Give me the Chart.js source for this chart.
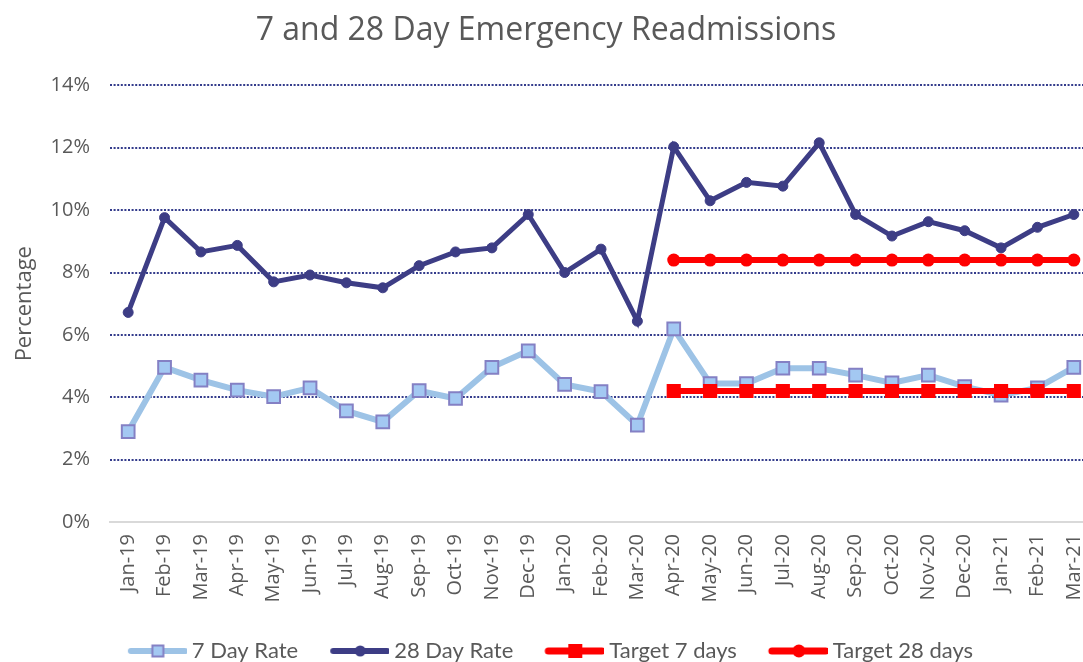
<!DOCTYPE html>
<html>
<head>
<meta charset="utf-8">
<script src="https://cdn.jsdelivr.net/npm/chart.js@4/dist/chart.umd.min.js"></script>
<style>
  html, body { margin: 0; padding: 0; background: #fff; overflow: hidden; }
  #wrap { width: 1092px; height: 662px; }
</style>
</head>
<body>
<!-- canvas is a bit wider than the window so the right edge gets cut off like the original -->
<div id="wrap"><canvas id="chart" width="1092" height="662"></canvas></div>
<script>
const months = ["Jan-19","Feb-19","Mar-19","Apr-19","May-19","Jun-19","Jul-19","Aug-19","Sep-19","Oct-19","Nov-19","Dec-19",
  "Jan-20","Feb-20","Mar-20","Apr-20","May-20","Jun-20","Jul-20","Aug-20","Sep-20","Oct-20","Nov-20","Dec-20",
  "Jan-21","Feb-21","Mar-21"];

const rate7 = [2.9, 4.96, 4.55, 4.23, 4.02, 4.3, 3.56, 3.21, 4.21, 3.96, 4.96, 5.49,
  4.41, 4.18, 3.11, 6.19, 4.44, 4.44, 4.93, 4.93, 4.71, 4.46, 4.71, 4.34, 4.07, 4.3, 4.96];

const rate28 = [6.72, 9.76, 8.66, 8.87, 7.7, 7.92, 7.67, 7.51, 8.22, 8.66, 8.79, 9.86,
  8.0, 8.75, 6.44, 12.03, 10.3, 10.89, 10.77, 12.16, 9.86, 9.17, 9.63, 9.34, 8.79, 9.45, 9.86];

const target7 = [null, null, null, null, null, null, null, null, null, null, null, null,
  null, null, null, 4.2, 4.2, 4.2, 4.2, 4.2, 4.2, 4.2, 4.2, 4.2, 4.2, 4.2, 4.2];

const target28 = [null, null, null, null, null, null, null, null, null, null, null, null,
  null, null, null, 8.4, 8.4, 8.4, 8.4, 8.4, 8.4, 8.4, 8.4, 8.4, 8.4, 8.4, 8.4];

const grey = "#595959";

// line+marker sample for the legend (excel style), with blank room on the left for spacing
function legendSample(lineColor, lineWidth, shape, fill, stroke, size) {
  const c = document.createElement("canvas");
  c.width = 74; c.height = 20;
  const g = c.getContext("2d");
  g.strokeStyle = lineColor;
  g.lineWidth = lineWidth;
  g.lineCap = "round";
  g.beginPath(); g.moveTo(18, 10); g.lineTo(72, 10); g.stroke();
  g.fillStyle = fill;
  g.lineWidth = 2;
  if (shape === "rect") {
    g.fillRect(45 - size / 2, 10 - size / 2, size, size);
    if (stroke) { g.strokeStyle = stroke; g.strokeRect(45 - size / 2, 10 - size / 2, size, size); }
  } else {
    g.beginPath(); g.arc(45, 10, size / 2, 0, Math.PI * 2); g.fill();
  }
  return c;
}

const samples = [
  legendSample("#9DC3E6", 6, "rect", "#A3C8F2", "#8480C4", 11),
  legendSample("#3D3D85", 6, "circle", "#3D3D85", null, 11),
  legendSample("#FF0000", 7, "rect", "#FF0000", null, 14),
  legendSample("#FF0000", 7, "circle", "#FF0000", null, 13)
];

new Chart(document.getElementById("chart"), {
  type: "line",
  data: {
    labels: months,
    datasets: [
      {
        label: "7 Day Rate",
        data: rate7,
        borderColor: "#9DC3E6",
        borderWidth: 6,
        pointStyle: "rect",
        pointRadius: 9,
        pointBackgroundColor: "#A3C8F2",
        pointBorderColor: "#8480C4",
        pointBorderWidth: 2,
        order: 4
      },
      {
        label: "28 Day Rate",
        data: rate28,
        borderColor: "#3D3D85",
        borderWidth: 5,
        pointStyle: "circle",
        pointRadius: 5,
        pointBackgroundColor: "#3D3D85",
        pointBorderColor: "#3D3D85",
        pointBorderWidth: 1,
        order: 3
      },
      {
        label: "Target 7 days",
        data: target7,
        borderColor: "#FF0000",
        borderWidth: 6,
        pointStyle: "rect",
        pointRadius: 10,
        pointBackgroundColor: "#FF0000",
        pointBorderColor: "#FF0000",
        pointBorderWidth: 0,
        order: 2
      },
      {
        label: "Target 28 days",
        data: target28,
        borderColor: "#FF0000",
        borderWidth: 6,
        pointStyle: "circle",
        pointRadius: 6.5,
        pointBackgroundColor: "#FF0000",
        pointBorderColor: "#FF0000",
        pointBorderWidth: 0,
        order: 1
      }
    ]
  },
  options: {
    responsive: false,
    animation: false,
    // legend sits low, like the original crop
    layout: { autoPadding: false, padding: { left: 0, right: 0, top: 0, bottom: -10 } },
    plugins: {
      title: {
        display: true,
        text: "7 and 28 Day Emergency Readmissions",
        color: grey,
        font: { family: "'Open Sans'", size: 32, weight: "normal" },
        padding: { top: 12, bottom: 35 }
      },
      legend: {
        position: "bottom",
        labels: {
          color: grey,
          font: { family: "Lato", size: 22 },
          usePointStyle: true,
          pointStyleWidth: 62,
          padding: 23,
          generateLabels: (chart) => chart.data.datasets.map((ds, i) => ({
            text: ds.label,
            fontColor: grey,
            pointStyle: samples[i],
            datasetIndex: i,
            hidden: false,
            lineWidth: 0
          }))
        }
      },
      tooltip: { enabled: false }
    },
    scales: {
      x: {
        offset: true,
        grid: { display: false, drawTicks: false },
        border: { display: true, color: "#D9D9D9", width: 2 },
        ticks: {
          color: grey,
          font: { family: "'Open Sans'", size: 20 },
          minRotation: 90,
          maxRotation: 90,
          autoSkip: false,
          padding: 12
        },
        afterFit: (axis) => {
          axis.height = 95;
          // let the last label run to the edge instead of squeezing the plot
          axis.paddingLeft = 0;
          axis.paddingRight = 0;
        }
      },
      y: {
        min: 0,
        max: 14,
        ticks: {
          stepSize: 2,
          color: grey,
          font: { family: "'Open Sans'", size: 20 },
          padding: 20,
          callback: (v) => v + "%"
        },
        grid: {
          drawTicks: false,
          lineWidth: 2,
          color: (ctx) => (ctx.tick && ctx.tick.value === 0) ? "rgba(0,0,0,0)" : "#343C8C"
        },
        border: { display: false, dash: [2, 1.6] },
        title: {
          display: true,
          text: "Percentage",
          color: grey,
          font: { family: "'Open Sans'", size: 22 },
          padding: { top: 12, bottom: 0 }
        },
        afterFit: (axis) => { axis.width = 110; }
      }
    }
  }
});
</script>
</body>
</html>
